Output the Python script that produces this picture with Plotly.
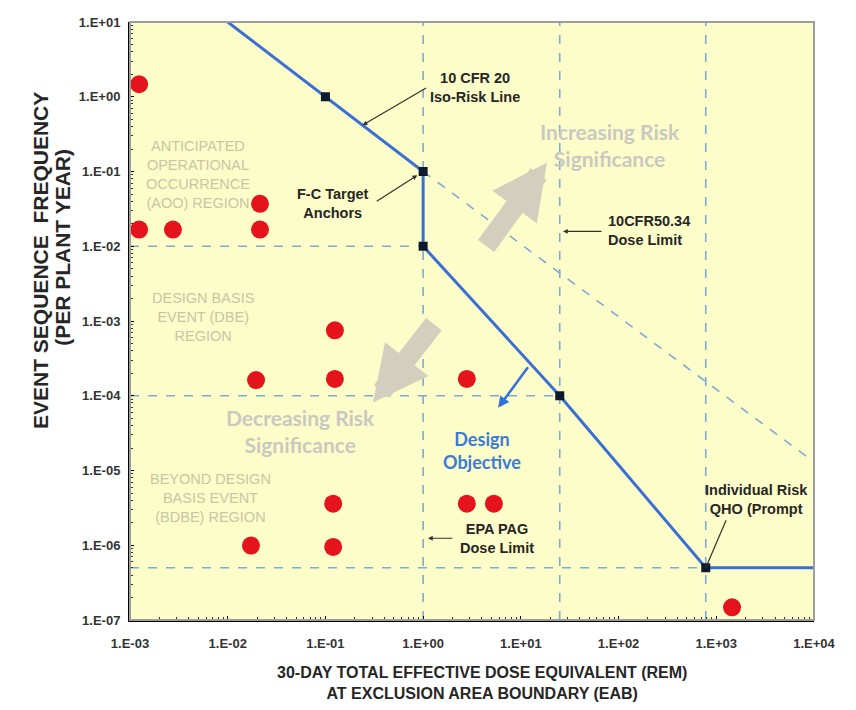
import numpy as np
import plotly.graph_objects as go

# ---------------- data ----------------
event_dose = [1.24e-3, 1.24e-3, 2.75e-3, 0.0214, 0.0214, 0.0195, 0.125, 0.125,
              2.8, 0.12, 0.12, 2.8, 5.3, 0.0173, 1450]
event_freq = [1.47, 0.0167, 0.0167, 0.037, 0.0167, 1.62e-4, 7.5e-4, 1.68e-4,
              1.68e-4, 3.6e-6, 9.5e-7, 3.6e-6, 3.6e-6, 9.9e-7, 1.48e-7]

fc_line_dose = [0.01, 0.1, 1, 1, 25, 780, 1e4]
fc_line_freq = [10, 1, 0.1, 0.01, 1e-4, 5e-7, 5e-7]

anchor_dose = [0.1, 1, 1, 25, 780]
anchor_freq = [1, 0.1, 0.01, 1e-4, 5e-7]

iso_ext_dose = [1, 1e4]
iso_ext_freq = [0.1, 1.3e-5]

h_limits_freq = [0.01, 1e-4, 5e-7]
h_limits_end_dose = [1, 25, 780]
v_limits_dose = [1, 25, 780]

x_tickvals = [1e-3, 1e-2, 1e-1, 1e0, 1e1, 1e2, 1e3, 1e4]
x_ticktext = ["1.E-03", "1.E-02", "1.E-01", "1.E+00", "1.E+01", "1.E+02", "1.E+03", "1.E+04"]
y_tickvals = [1e-7, 1e-6, 1e-5, 1e-4, 1e-3, 1e-2, 1e-1, 1e0, 1e1]
y_ticktext = ["1.E-07", "1.E-06", "1.E-05", "1.E-04", "1.E-03", "1.E-02", "1.E-01", "1.E+00", "1.E+01"]

X_MIN, X_MAX = 1e-3, 1e4
Y_MIN, Y_MAX = 1e-7, 1e1

x_minor = [m * 10.0 ** e for e in range(-3, 4) for m in range(2, 10)]
y_minor = [m * 10.0 ** e for e in range(-7, 1) for m in range(2, 10)]

DASH_COLOR = "#7eabd4"
BLUE = "#3a6fd6"
FONT = "Liberation Sans, Arial, sans-serif"
DARK = "#262626"

fig = go.Figure()

# dashed reference lines
for f, xe in zip(h_limits_freq, h_limits_end_dose):
    fig.add_trace(go.Scatter(x=[X_MIN, xe], y=[f, f], mode="lines",
                             line=dict(color=DASH_COLOR, width=1.6, dash="dash"),
                             hoverinfo="skip", showlegend=False))
for d in v_limits_dose:
    fig.add_trace(go.Scatter(x=[d, d], y=[Y_MIN, Y_MAX], mode="lines",
                             line=dict(color=DASH_COLOR, width=1.6, dash="dash"),
                             hoverinfo="skip", showlegend=False))
fig.add_trace(go.Scatter(x=iso_ext_dose, y=iso_ext_freq, mode="lines",
                         line=dict(color=DASH_COLOR, width=1.6, dash="dash"),
                         hoverinfo="skip", showlegend=False))

# F-C target line
fig.add_trace(go.Scatter(x=fc_line_dose, y=fc_line_freq, mode="lines",
                         line=dict(color=BLUE, width=3),
                         hoverinfo="skip", showlegend=False))
fig.add_trace(go.Scatter(x=anchor_dose, y=anchor_freq, mode="markers",
                         marker=dict(symbol="square", size=9, color="#0d1a2e"),
                         hoverinfo="skip", showlegend=False))

# event points
fig.add_trace(go.Scatter(x=event_dose, y=event_freq, mode="markers",
                         marker=dict(size=18, color="#e5131b"),
                         cliponaxis=False, hoverinfo="skip", showlegend=False))

L = np.log10
ann = []

def text(xv, yv, t, size=14.5, color=DARK, bold=True, family=FONT, align="center"):
    s = f"<b>{t}</b>" if bold else t
    ann.append(dict(x=L(xv), y=L(yv), xref="x", yref="y", text=s, showarrow=False,
                    font=dict(size=size, color=color, family=family), align=align))

def arrow(xv, yv, ax, ay, color="#333333", width=1.2, head=2, size=0.8):
    ann.append(dict(x=L(xv), y=L(yv), xref="x", yref="y", text="", showarrow=True,
                    ax=ax, ay=ay, arrowcolor=color, arrowwidth=width,
                    arrowhead=head, arrowsize=size))

# region labels
REG = "#c8c6a4"
text(10**-2.304, 10**-1.037, "ANTICIPATED<br>OPERATIONAL<br>OCCURRENCE<br>(AOO) REGION", size=14.5, color=REG, bold=False)
text(10**-2.253, 10**-2.942, "DESIGN BASIS<br>EVENT (DBE)<br>REGION", size=14.5, color=REG, bold=False)
text(10**-2.181, 10**-5.362, "BEYOND DESIGN<br>BASIS EVENT<br>(BDBE) REGION", size=14.5, color=REG, bold=False)

# big grey arrows
GREY = "#d3cfbf"
arrow(18.5, 0.132, -62, 85, color=GREY, width=20, head=2, size=0.55)
arrow(0.307, 8.1e-5, 62, -80, color=GREY, width=20, head=2, size=0.55)

text(10**1.91, 10**-0.640, "Increasing Risk<br>Significance", size=21, color="#c9c9c1", bold=True, family="Lato, sans-serif")
text(10**-1.26, 10**-4.476, "Decreasing Risk<br>Significance", size=21, color="#c9c9c1", bold=True, family="Lato, sans-serif")

# callouts
text(10**0.531, 10**0.127, "10 CFR 20<br>Iso-Risk Line")
arrow(0.24, 0.1 / 0.24, 65, -38)
text(10**-0.922, 10**-1.434, "F-C Target<br>Anchors")
arrow(0.87, 0.089, -42, 27)
text(10**2.312, 10**-1.791, "10CFR50.34<br>Dose Limit", align="left")
arrow(27, 0.0158, 40, 0)
text(10**0.756, 10**-5.905, "EPA PAG<br>Dose Limit")
arrow(1.12, 1.24e-6, 26, 0)
text(10**3.407, 10**-5.389, "Individual Risk<br>QHO (Prompt")
arrow(780, 5e-7, 21, -49, head=0)

# design objective
text(10**0.603, 10**-4.728, "Design<br>Objective", size=18, color="#3b7bd8", family="Lato, sans-serif")
arrow(5.85, 6.9e-5, 31, -42, color="#2f72d8", width=2.5, head=2, size=0.9)

# axis titles
ann.append(dict(x=-0.1316, y=0.602, xref="paper", yref="paper", showarrow=False, textangle=-90,
                xanchor="center", yanchor="middle",
                text="<b>EVENT SEQUENCE  FREQUENCY</b>",
                font=dict(size=21, color=DARK, family=FONT)))
ann.append(dict(x=-0.098, y=0.624, xref="paper", yref="paper", showarrow=False, textangle=-90,
                xanchor="center", yanchor="middle",
                text="<b>(PER PLANT YEAR)</b>",
                font=dict(size=21, color=DARK, family=FONT)))
ann.append(dict(x=0.514, y=-0.1058, xref="paper", yref="paper", showarrow=False,
                xanchor="center", yanchor="middle",
                text="<b>30-DAY TOTAL EFFECTIVE DOSE EQUIVALENT (REM)<br>AT EXCLUSION AREA BOUNDARY (EAB)</b>",
                font=dict(size=16, color=DARK, family=FONT)))

fig.update_layout(
    width=840, height=694,
    margin=dict(l=122, r=34, t=7, b=82),
    paper_bgcolor="white",
    plot_bgcolor="#fdfdc9",
    annotations=ann,
    showlegend=False,
    shapes=[dict(type="rect", xref="paper", yref="paper", x0=0, x1=1, y0=0, y1=1,
                 line=dict(color="#9d9d9d", width=2), layer="above")],
)
fig.update_xaxes(type="log", range=[L(X_MIN), L(X_MAX)], tickvals=x_tickvals, ticktext=x_ticktext,
                 showgrid=False, zeroline=False, showline=True, linecolor="black", linewidth=2,
                 ticks="inside", ticklen=4, tickcolor="black", ticklabelstandoff=10,
                 ticklabeloverflow="allow",
                 minor=dict(ticks="inside", ticklen=3, tickcolor="#333", showgrid=False,
                            tickmode="array", tickvals=x_minor),
                 tickfont=dict(size=13, color="#333", family=FONT, weight="bold"), layer="above traces")
fig.update_yaxes(type="log", range=[L(Y_MIN), L(Y_MAX)], tickvals=y_tickvals, ticktext=y_ticktext,
                 showgrid=False, zeroline=False, showline=True, linecolor="black", linewidth=2,
                 ticks="inside", ticklen=4, tickcolor="black", ticklabelstandoff=5,
                 ticklabeloverflow="allow",
                 minor=dict(ticks="inside", ticklen=3, tickcolor="#333", showgrid=False,
                            tickmode="array", tickvals=y_minor),
                 tickfont=dict(size=13, color="#333", family=FONT, weight="bold"), layer="above traces")

fig.write_html("out.html")
